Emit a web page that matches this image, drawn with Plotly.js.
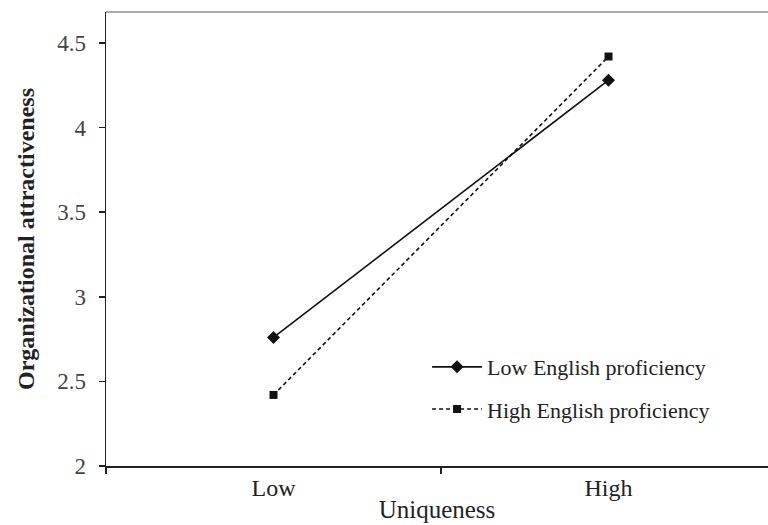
<!DOCTYPE html>
<html>
<head>
<meta charset="utf-8">
<script src="https://cdn.plot.ly/plotly-3.0.1.min.js"></script>
<style>html,body{margin:0;padding:0;background:#fff;}#chart{width:768px;height:525px;}</style>
</head>
<body>
<div id="chart"></div>
<script>
var categories = ["Low", "High"];
var lowEnglish = [2.76, 4.28];
var highEnglish = [2.42, 4.42];
var seriesNames = ["Low English proficiency", "High English proficiency"];
var yTickVals = [2, 2.5, 3, 3.5, 4, 4.5];
var yTickText = ["2", "2.5", "3", "3.5", "4", "4.5"];

var serif = "Liberation Serif, Times New Roman, serif";

var traces = [
  {
    x: categories, y: lowEnglish, name: seriesNames[0], type: "scatter", mode: "lines+markers",
    line: {color: "#111", width: 1.6},
    marker: {symbol: "diamond", size: 10, color: "#111"},
    legend: "legend"
  },
  {
    x: categories, y: highEnglish, name: seriesNames[1], type: "scatter", mode: "lines+markers",
    line: {color: "#111", width: 1.6, dash: "4px,3px"},
    marker: {symbol: "square", size: 8, color: "#111"},
    legend: "legend2"
  }
];

var legendFont = {family: serif, size: 22, color: "#222"};
var layout = {
  width: 768, height: 525,
  margin: {l: 106, r: 0, t: 12, b: 59},
  paper_bgcolor: "#fff", plot_bgcolor: "#fff",
  showlegend: true,
  font: {family: serif, color: "#222"},
  xaxis: {
    type: "category", range: [-0.5, 1.476],
    showline: true, linecolor: "#222", linewidth: 1.5,
    ticks: "outside", tickson: "boundaries", ticklen: 6, tickcolor: "#222", tickwidth: 1.5,
    showgrid: false, zeroline: false,
    tickfont: {family: serif, size: 24, color: "#222"},
    title: {text: "Uniqueness", font: {family: serif, size: 25, color: "#222"}, standoff: 0}
  },
  yaxis: {
    range: [2, 4.683],
    tickvals: yTickVals, ticktext: yTickText,
    showline: true, linecolor: "#222", linewidth: 1.5,
    ticks: "outside", ticklen: 6, tickcolor: "#222", tickwidth: 1.5,
    ticklabelstandoff: 8,
    showgrid: false, zeroline: false,
    tickfont: {family: serif, size: 23, color: "#444"},
    title: {text: "<b>Organizational attractiveness</b>", font: {family: serif, size: 24, color: "#222"}, standoff: 16}
  },
  legend: {x: 0.485, y: 0.218, xanchor: "left", yanchor: "middle", font: legendFont, bgcolor: "rgba(0,0,0,0)", itemwidth: 50},
  legend2: {x: 0.485, y: 0.125, xanchor: "left", yanchor: "middle", font: legendFont, bgcolor: "rgba(0,0,0,0)", itemwidth: 50},
  shapes: [
    {type: "line", xref: "paper", yref: "paper", x0: 0, x1: 1, y0: 1, y1: 1, line: {color: "#aaa", width: 2}}
  ]
};

Plotly.newPlot("chart", traces, layout, {displayModeBar: false, staticPlot: true});
</script>
</body>
</html>
